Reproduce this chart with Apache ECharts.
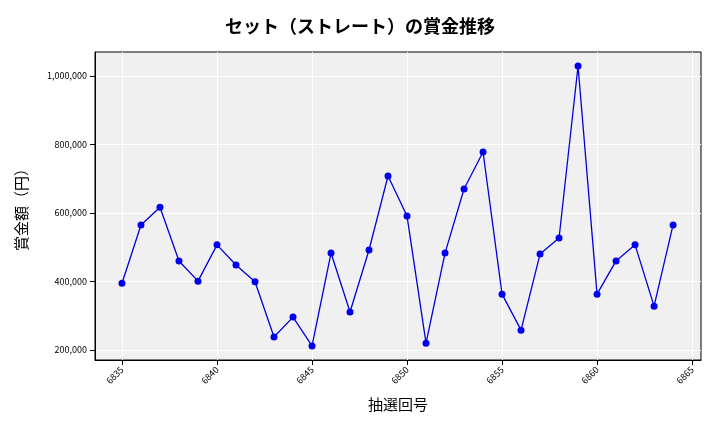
<!DOCTYPE html>
<html><head><meta charset="utf-8">
<script src="https://cdn.jsdelivr.net/npm/echarts@6/dist/echarts.min.js"></script>
<style>html,body{margin:0;padding:0;background:#fff}#c{width:720px;height:432px}</style>
</head><body><div id="c"></div>
<script>
const draws=[6835,6836,6837,6838,6839,6840,6841,6842,6843,6844,6845,6846,6847,6848,6849,6850,6851,6852,6853,6854,6855,6856,6857,6858,6859,6860,6861,6862,6863,6864];
const prizes=[395000,565000,617000,460000,401000,507000,448000,399000,238000,296000,212000,483000,311000,492000,708000,591000,220000,483000,670000,778000,363000,258000,480000,527000,1029000,363000,460000,507000,328000,565000];
const xTicks=[6835,6840,6845,6850,6855,6860,6865];
const yTicks=[200000,400000,600000,800000,1000000];
const font='"Noto Sans CJK JP","Noto Sans",sans-serif';
const chart=echarts.init(document.getElementById('c'));
chart.setOption({
 animation:false,
 title:{text:'セット（ストレート）の賞金推移',left:'center',top:12,textStyle:{fontFamily:font,fontSize:18,fontWeight:'bold',color:'#000'}},
 grid:{left:95,right:19,top:52,bottom:72,show:true,backgroundColor:'#f0f0f0',borderWidth:1,borderColor:'#000'},
 xAxis:{type:'value',min:6833.58,max:6865.47,name:'抽選回号',nameLocation:'middle',nameGap:37,
  nameTextStyle:{fontFamily:font,fontSize:15,color:'#000'},
  axisLine:{show:true,lineStyle:{color:'#000'}},
  axisTick:{show:true,customValues:xTicks,lineStyle:{color:'#000'}},
  axisLabel:{customValues:xTicks,rotate:45,fontSize:9,color:'#000',fontFamily:font,formatter:v=>String(v)},
  splitLine:{show:true,lineStyle:{color:'#fff',width:1}}},
 yAxis:{type:'value',min:170800,max:1070000,name:'賞金額（円）',nameLocation:'middle',nameGap:66,
  nameTextStyle:{fontFamily:font,fontSize:15,color:'#000'},
  axisLine:{show:true,lineStyle:{color:'#000'}},
  axisTick:{show:true,customValues:yTicks,lineStyle:{color:'#000'}},
  axisLabel:{customValues:yTicks,fontSize:9,color:'#000',fontFamily:font,formatter:v=>v.toLocaleString('en-US')},
  splitLine:{show:true,lineStyle:{color:'#fff',width:1}}},
 series:[{type:'line',data:draws.map((d,i)=>[d,prizes[i]]),symbol:'circle',symbolSize:7,
  lineStyle:{color:'#0000dd',width:1.3},itemStyle:{color:'#0000ee'}}]
});
</script></body></html>
